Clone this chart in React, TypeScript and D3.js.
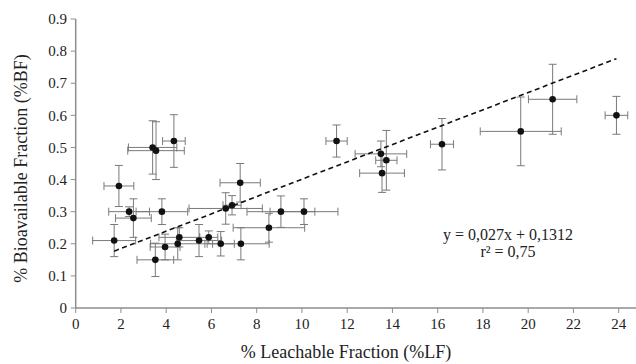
import React from "react";
import * as d3 from "d3";

const xs = [1.7, 1.91, 2.36, 2.55, 3.4, 3.55, 4.34, 3.81, 3.52, 3.95, 4.51, 4.58, 5.45, 5.88, 6.41, 7.3, 6.63, 6.91, 7.27, 8.54, 9.07, 10.09, 11.53, 13.49, 13.73, 13.54, 16.19, 19.67, 21.08, 23.9];
const ys = [0.21, 0.38, 0.3, 0.28, 0.5, 0.49, 0.52, 0.3, 0.15, 0.19, 0.2, 0.22, 0.21, 0.22, 0.2, 0.2, 0.31, 0.32, 0.39, 0.25, 0.3, 0.3, 0.52, 0.48, 0.46, 0.42, 0.51, 0.55, 0.65, 0.6];
const xErr = [0.95, 0.66, 0.9, 0.79, 1.07, 1.25, 0.5, 1.14, 0.81, 0.66, 1.2, 0.9, 1.0, 0.4, 0.6, 1.25, 1.62, 0.4, 0.89, 1.58, 1.5, 1.5, 0.47, 1.14, 0.47, 0.99, 0.51, 1.79, 1.07, 0.5];
const yErr = [0.05, 0.064, 0.015, 0.06, 0.083, 0.09, 0.082, 0.04, 0.052, 0.04, 0.05, 0.03, 0.05, 0.02, 0.038, 0.05, 0.049, 0.03, 0.06, 0.045, 0.049, 0.04, 0.05, 0.04, 0.093, 0.06, 0.08, 0.107, 0.109, 0.059];
const xTicks = [0, 2, 4, 6, 8, 10, 12, 14, 16, 18, 20, 22, 24];
const yTicks = [0, 0.1, 0.2, 0.3, 0.4, 0.5, 0.6, 0.7, 0.8, 0.9];
const slope = 0.027;
const intercept = 0.1312;
const eqText = "y = 0,027x + 0,1312";
const r2Text = "r² = 0,75";
const xTitle = "% Leachable Fraction (%LF)";
const yTitle = "% Bioavailable Fraction (%BF)";

export default function App() {
  const W = 636, H = 364;
  const x = d3.scaleLinear().domain([0, 24]).range([75.7, 618.7]);
  const y = d3.scaleLinear().domain([0, 0.9]).range([308, 19]);
  const font = '"Liberation Serif", "Times New Roman", Times, serif';
  const axisColor = "#8e8e8e";
  const errColor = "#7a7a7a";
  const cap = 4;
  const xMin = d3.min(xs) as number;
  const xMax = d3.max(xs) as number;
  const line = d3.line<number>().x((v) => x(v)).y((v) => y(slope * v + intercept));
  const fmtY = (v: number) => (v === 0 ? "0" : d3.format(".1f")(v));
  const ts = { fontFamily: font } as React.CSSProperties;
  return (
    <svg width={W} height={H} style={{ position: "absolute", left: 0, top: 0, background: "#fff", fontFamily: font }}>
      <line x1={x(0)} x2={W} y1={y(0)} y2={y(0)} stroke={axisColor} strokeWidth={1.5} />
      <line x1={x(0)} x2={x(0)} y1={y(0)} y2={y(0.9)} stroke={axisColor} strokeWidth={1.5} />
      {yTicks.map((t) => (
        <g key={"y" + t}>
          <line x1={x(0) - 5} x2={x(0)} y1={y(t)} y2={y(t)} stroke={axisColor} strokeWidth={1} />
          <text style={ts} x={67} y={y(t)} dy="0.35em" textAnchor="end" fontSize={15} fill="#222">{fmtY(t)}</text>
        </g>
      ))}
      {xTicks.map((t) => (
        <g key={"x" + t}>
          <line x1={x(t)} x2={x(t)} y1={y(0)} y2={y(0) + 5} stroke={axisColor} strokeWidth={1} />
          <text style={ts} x={x(t)} y={329} textAnchor="middle" fontSize={15} fill="#222">{t}</text>
        </g>
      ))}
      {xs.map((xv, i) => {
        const yv = ys[i];
        const x0 = x(xv - xErr[i]), x1 = x(xv + xErr[i]);
        const y0 = y(yv - yErr[i]), y1 = y(yv + yErr[i]);
        return (
          <g key={"e" + i} stroke={errColor} strokeWidth={1} fill="none">
            <line x1={x0} x2={x1} y1={y(yv)} y2={y(yv)} />
            <line x1={x0} x2={x0} y1={y(yv) - cap} y2={y(yv) + cap} />
            <line x1={x1} x2={x1} y1={y(yv) - cap} y2={y(yv) + cap} />
            <line x1={x(xv)} x2={x(xv)} y1={y0} y2={y1} />
            <line x1={x(xv) - cap} x2={x(xv) + cap} y1={y0} y2={y0} />
            <line x1={x(xv) - cap} x2={x(xv) + cap} y1={y1} y2={y1} />
          </g>
        );
      })}
      <path d={line([xMin, xMax]) || ""} stroke="#111" strokeWidth={1.6} strokeDasharray="5,3.5" fill="none" />
      {xs.map((xv, i) => (
        <circle key={"p" + i} cx={x(xv)} cy={y(ys[i])} r={3.3} fill="#111" />
      ))}
      <text style={ts} x={508} y={240} textAnchor="middle" fontSize={16} fill="#222">{eqText}</text>
      <text style={ts} x={508} y={257} textAnchor="middle" fontSize={16} fill="#222">{r2Text}</text>
      <text style={ts} x={346} y={358} textAnchor="middle" fontSize={18} fill="#222">{xTitle}</text>
      <text style={ts} transform={`translate(27,${(y(0) + y(0.9)) / 2 + 5}) rotate(-90)`} textAnchor="middle" fontSize={18} fill="#222">{yTitle}</text>
    </svg>
  );
}
